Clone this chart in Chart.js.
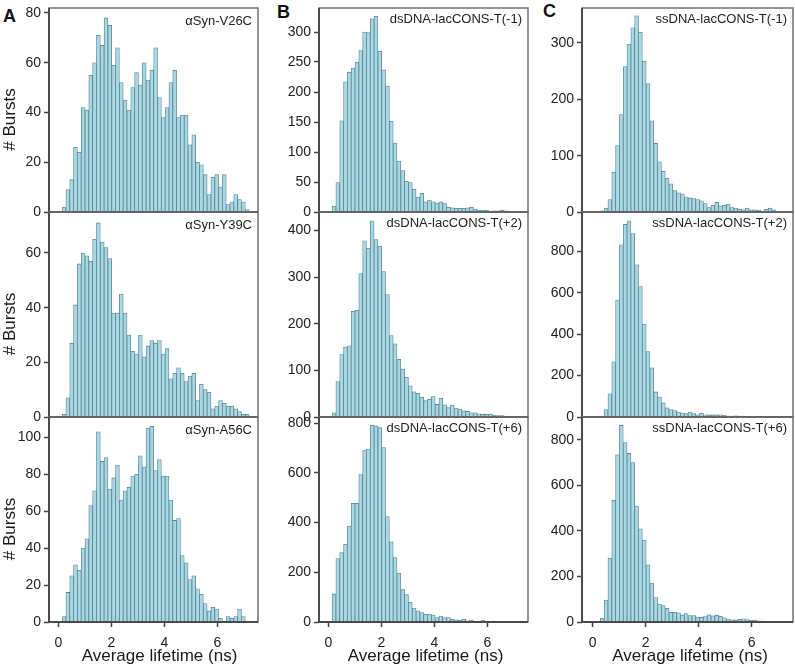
<!DOCTYPE html>
<html><head><meta charset="utf-8">
<script src="https://cdn.jsdelivr.net/npm/chart.js@4.4.1/dist/chart.umd.min.js"></script>
<style>
html,body{margin:0;padding:0;background:#fff;}
#wrap{position:relative;width:795px;height:667px;overflow:hidden;background:#fff;}
canvas{position:absolute;}
.lt{position:absolute;font:bold 18px/18px "Liberation Sans",Arial,sans-serif;color:#111;}
</style></head><body>
<div id="wrap">
<div class="lt" style="left:3px;top:7px">A</div>
<div class="lt" style="left:277px;top:3px">B</div>
<div class="lt" style="left:543px;top:2px">C</div>
</div>
<script>
// ---- data (bin centres in ns, bin width 0.144 ns) ----
const binCenters = [0.072,0.216,0.36,0.504,0.648,0.792,0.936,1.08,1.224,1.368,1.512,1.656,1.8,1.944,2.088,2.232,2.376,2.52,2.664,2.808,2.952,3.096,3.24,3.384,3.528,3.672,3.816,3.96,4.104,4.248,4.392,4.536,4.68,4.824,4.968,5.112,5.256,5.4,5.544,5.688,5.832,5.976,6.12,6.264,6.408,6.552,6.696,6.84,6.984,7.128];

const countsV26C = [0,2,9,13,26,24,42,41,55,60,71,67,78,75,59,66,52,45,41,50,56,51,60,53,57,66,46,38,42,52,57,38,39,39,27,31,20,19,15,7,14,15,10,15,3,4,7,5,4,1];
const countsY39C = [0,1,7,27,41,56,60,59,57,65,71,64,62,58,38,38,45,38,30,24,23,30,22,26,28,27,28,23,25,14,16,18,16,13,15,16,6,12,10,9,3,4,6,5,4,4,3,2,1,1];
const countsA56C = [0,3,16,25,31,28,40,45,63,71,103,87,89,72,78,85,66,71,73,79,80,90,84,105,106,82,88,79,79,66,55,56,36,32,23,25,18,15,10,6,8,7,2,0,3,2,3,7,3,0];

const countsDsM1 = [0,10,49,152,217,233,240,250,269,300,299,322,326,268,237,210,151,115,85,69,51,49,38,25,31,17,20,17,15,17,14,8,7,6,6,6,7,8,5,3,3,3,1,2,2,3,2,0,1,0];
const countsDsP2 = [0,9,76,134,150,153,227,229,308,378,362,421,381,367,312,263,175,157,124,103,85,67,54,51,43,35,38,44,27,40,26,20,25,19,17,13,12,9,9,7,6,6,6,4,3,3,2,0,0,0];
const countsDsP6 = [0,113,255,279,313,386,478,478,593,692,696,792,789,782,702,424,323,259,197,130,110,79,56,45,38,31,31,28,18,24,18,18,11,9,8,11,5,7,4,4,7,4,3,3,1,1,0,0,0,0];

const countsSsM1 = [0,0,2,7,22,71,118,173,258,298,327,348,319,268,228,162,122,89,72,60,50,38,34,32,27,25,24,22,20,15,8,12,17,11,12,14,8,7,5,4,7,4,4,3,1,5,7,4,1,0];
const countsSsP2 = [0,0,0,36,112,267,565,832,930,947,886,735,630,449,316,238,121,96,68,44,36,31,24,19,16,24,16,11,18,11,10,10,10,11,8,5,5,6,5,5,3,3,3,3,2,0,0,0,0,0];
const countsSsP6 = [0,0,16,96,281,534,734,863,788,740,700,509,409,360,251,171,107,79,72,60,43,43,40,31,37,28,28,22,20,24,31,27,30,25,18,13,10,9,12,14,11,7,8,5,4,3,2,2,1,0];

const panelLabels = [
  ['αSyn-V26C','αSyn-Y39C','αSyn-A56C'],
  ['dsDNA-lacCONS-T(-1)','dsDNA-lacCONS-T(+2)','dsDNA-lacCONS-T(+6)'],
  ['ssDNA-lacCONS-T(-1)','ssDNA-lacCONS-T(+2)','ssDNA-lacCONS-T(+6)']
];
const panelCounts = [
  [countsV26C, countsY39C, countsA56C],
  [countsDsM1, countsDsP2, countsDsP6],
  [countsSsM1, countsSsP2, countsSsP6]
];
const yAxisMax  = [[82,75,111],[340,440,825],[362,990,900]];
const yTickStep = [[20,20,20],[50,100,200],[100,200,200]];
const xTickValues = [0,2,4,6];
const yTitle = '# Bursts';
const xTitle = 'Average lifetime (ns)';

// ---- layout ----
const FONT = '"Liberation Sans", Arial, Helvetica, sans-serif';
const cols = [
  {left:0,   yW:49, plotW:209, padR:3, xMin:-0.351, xMax:7.536, titleDx:6,   labelDy:13.5},
  {left:262, yW:57, plotW:209, padR:3, xMin:-0.351, xMax:7.536, titleDx:2,   labelDy:11},
  {left:530, yW:52, plotW:211, padR:2, xMin:-0.404, xMax:7.558, titleDx:2.5, labelDy:11}
];
const rows = [{top:8,h:204},{top:212,h:205},{top:417,h:205}];

const framePlugin = {
  id: 'frame',
  afterDraw(chart, args, o) {
    const {ctx, chartArea:a} = chart;
    ctx.save();
    ctx.strokeStyle = '#707070'; ctx.lineWidth = 1.5;
    ctx.strokeRect(a.left, a.top, a.right - a.left, a.bottom - a.top);
    ctx.strokeStyle = '#4a4a4a'; ctx.lineWidth = 2;
    ctx.beginPath(); ctx.moveTo(a.left, a.top); ctx.lineTo(a.left, a.bottom); ctx.lineTo(a.right, a.bottom); ctx.stroke();
    ctx.fillStyle = '#222';
    ctx.font = '13px ' + FONT;
    ctx.textAlign = 'right'; ctx.textBaseline = 'middle';
    ctx.fillText(o.label, a.right - 6, a.top + o.labelDy);
    ctx.fillStyle = '#1a1a1a';
    ctx.font = '17px ' + FONT;
    if (o.yTitle) {
      ctx.save();
      ctx.translate(10, (a.top + a.bottom) / 2 + 9.5);
      ctx.rotate(-Math.PI / 2);
      ctx.textAlign = 'center'; ctx.textBaseline = 'middle';
      ctx.fillText(o.yTitle, 0, 0);
      ctx.restore();
    }
    if (o.xTitle) {
      ctx.textAlign = 'center'; ctx.textBaseline = 'middle';
      ctx.fillText(o.xTitle, (a.left + a.right) / 2 + o.titleDx, a.bottom + 34);
    }
    ctx.restore();
  }
};

const wrap = document.getElementById('wrap');
for (let c = 0; c < 3; c++) {
  for (let r = 0; r < 3; r++) {
    const col = cols[c], row = rows[r];
    const padT = 12, padB = r < 2 ? 12 : 0, xH = r === 2 ? 44 : 0;
    const W = col.yW + col.plotW + col.padR;
    const H = padT + row.h + xH + padB;
    const cv = document.createElement('canvas');
    cv.width = W; cv.height = H;
    cv.style.left = col.left + 'px'; cv.style.top = (row.top - padT) + 'px';
    cv.style.width = W + 'px'; cv.style.height = H + 'px';
    wrap.appendChild(cv);
    const counts = panelCounts[c][r];
    const points = binCenters.map((x, i) => ({x: x, y: counts[i]})).filter(p => p.y > 0);
    const yMax = yAxisMax[c][r], yStep = yTickStep[c][r];
    new Chart(cv, {
      type: 'bar',
      data: { datasets: [{
        data: points,
        backgroundColor: '#a9d8e5',
        borderColor: '#5a8490',
        borderWidth: 0.8,
        borderSkipped: 'start',
        barPercentage: 1,
        categoryPercentage: 1
      }]},
      options: {
        responsive: false, animation: false, devicePixelRatio: 1,
        layout: { padding: { top: padT, bottom: padB, left: 0, right: col.padR } },
        plugins: {
          legend: { display: false }, tooltip: { enabled: false },
          frame: { label: panelLabels[c][r], labelDy: col.labelDy,
                   yTitle: c === 0 ? yTitle : null,
                   xTitle: r === 2 ? xTitle : null, titleDx: col.titleDx }
        },
        scales: {
          x: {
            type: 'linear', min: col.xMin, max: col.xMax, offset: false,
            grid: { display: true, drawOnChartArea: false, drawTicks: r === 2, tickLength: 5, tickColor: '#444', tickWidth: 1.5, offset: false },
            border: { display: false },
            ticks: { display: r === 2, autoSkip: false, maxRotation: 0,
                     font: { family: FONT, size: 14 }, color: '#222', padding: 8 },
            afterBuildTicks: s => { s.ticks = xTickValues.map(v => ({value: v})); },
            afterFit: s => { s.height = xH; }
          },
          y: {
            min: 0, max: yMax,
            grid: { drawOnChartArea: false, tickLength: 5, tickColor: '#444', tickWidth: 1.5 },
            border: { display: false },
            ticks: { autoSkip: false, font: { family: FONT, size: 14 }, color: '#222', padding: 3 },
            afterBuildTicks: s => {
              const t = [];
              for (let v = 0; v <= yMax; v += yStep) t.push({value: v});
              s.ticks = t;
            },
            afterFit: s => { s.width = col.yW; }
          }
        }
      },
      plugins: [framePlugin]
    });
  }
}
</script>
</body></html>
